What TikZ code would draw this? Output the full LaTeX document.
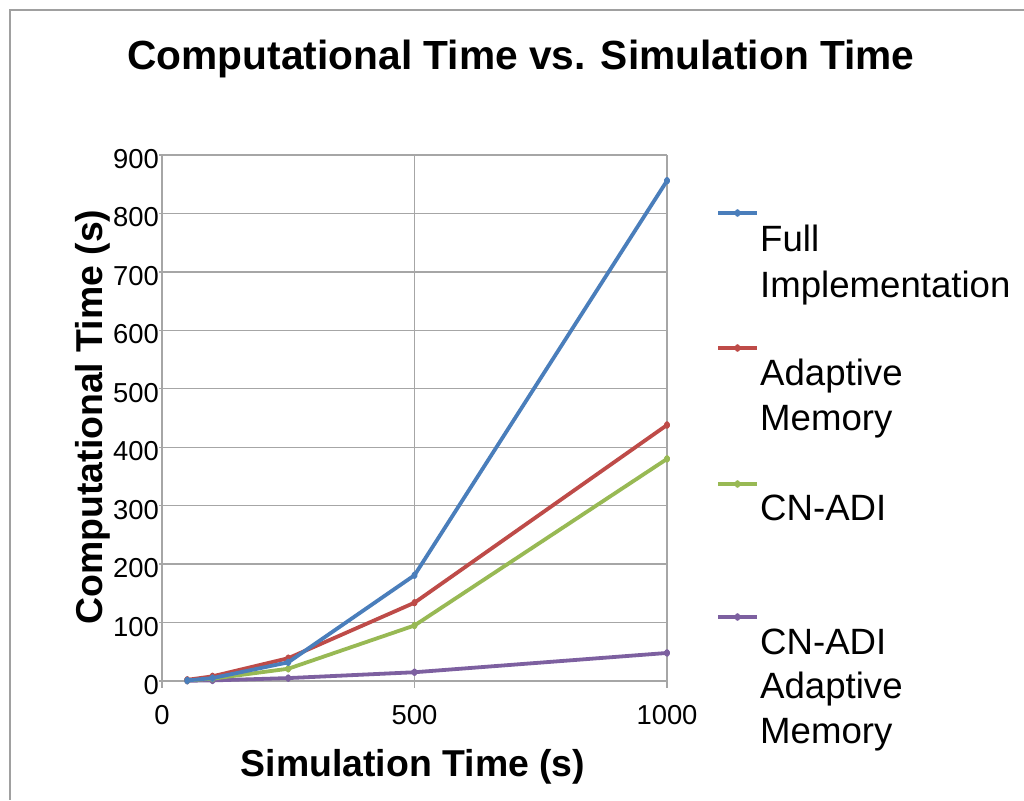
\documentclass[tikz,border=0pt]{standalone}
\usepackage{fontspec}
\setmainfont{Liberation Sans}
\usetikzlibrary{plotmarks}
\definecolor{gridgray}{HTML}{A6A6A6}
\definecolor{frame}{HTML}{A0A0A0}
\definecolor{serblue}{HTML}{4A7EBB}
\definecolor{serred}{HTML}{BE4B48}
\definecolor{sergreen}{HTML}{98B954}
\definecolor{serpurple}{HTML}{7D60A0}
\begin{document}
\begin{tikzpicture}[x=1pt,y=-1pt,
  gridline/.style={draw=gridgray,line width=1.4pt},
  series/.style={line width=3.8pt,line join=round,line cap=round},
  dmarks/.style={mark=diamond*,mark size=1.9pt,mark options={solid}},
  ticklbl/.style={inner sep=0pt,font=\fontsize{27.4}{30}\selectfont},
  axistitle/.style={inner sep=0pt,font=\bfseries\fontsize{37.4}{40}\selectfont},
  legtxt/.style={inner sep=0pt,anchor=base west,font=\fontsize{36.6}{40}\selectfont},
  titletxt/.style={inner sep=0pt,anchor=base,font=\bfseries\fontsize{40.7}{44}\selectfont}]
\useasboundingbox[fill=white] (0,0) rectangle (1024,800);

% outer frame (left and top edges)
\draw[frame,line width=1.5pt] (10,800) -- (10,10) -- (1024,10);

% title
\node[titletxt] (title) at (521,70) {Computational Time vs. Simulation Time};

% plot area: value -> pixel mapping
\begin{scope}[shift={(162,681)},x=0.505pt,y=0.58444pt]
  % horizontal grid lines with short ticks to the left
  \foreach \v in {0,100,...,900}{
    \draw[gridline] (-5,\v) -- (1000,\v);
    \node[ticklbl,anchor=base east] (ylab\v) at (-6,\v-23) {\v};
  }
  % vertical grid lines with ticks below
  \foreach \u in {0,500,1000}{
    \draw[gridline] (\u,900) -- (\u,-12);
    \node[ticklbl,anchor=base] (xlab\u) at (\u,-75) {\u};
  }

  % data points
  \coordinate (b1) at (50,1);   \coordinate (b2) at (100,5);
  \coordinate (b3) at (250,32); \coordinate (b4) at (500,181);
  \coordinate (b5) at (1000,856);
  \coordinate (r1) at (50,2);   \coordinate (r2) at (100,8);
  \coordinate (r3) at (250,39); \coordinate (r4) at (500,134);
  \coordinate (r5) at (1000,438);
  \coordinate (g1) at (50,1);   \coordinate (g2) at (100,4);
  \coordinate (g3) at (250,21); \coordinate (g4) at (500,95);
  \coordinate (g5) at (1000,380);
  \coordinate (p1) at (50,0.5); \coordinate (p2) at (100,1);
  \coordinate (p3) at (250,5);  \coordinate (p4) at (500,15);
  \coordinate (p5) at (1000,48);

  \draw[series,serpurple] plot[dmarks] coordinates {(p1) (p2) (p3) (p4) (p5)};
  \draw[series,sergreen] plot[dmarks] coordinates {(g1) (g2) (g3) (g4) (g5)};
  \draw[series,serred] plot[dmarks] coordinates {(r1) (r2) (r3) (r4) (r5)};
  \draw[series,serblue] plot[dmarks] coordinates {(b1) (b2) (b3) (b4) (b5)};
\end{scope}

% axis titles
\node[axistitle,anchor=base] (xtitle) at (413,776) {Simulation Time (s)};
\node[axistitle,anchor=base,rotate=90] (ytitle) at (102,417) {Computational Time (s)};

% legend keys
\foreach \c/\yy/\k in {serblue/213/kb,serred/348/kr,sergreen/484/kg,serpurple/617/kp}{
  \coordinate (\k a) at (718,\yy);
  \coordinate (\k m) at (737.5,\yy);
  \coordinate (\k b) at (757,\yy);
  \draw[series,line cap=butt,\c] plot[dmarks,mark indices={2}] coordinates {(\k a) (\k m) (\k b)};
}

% legend labels
\node[legtxt] (lfull1) at (760,251) {Full};
\node[legtxt] (lfull2) at (760,297) {Implementation};
\node[legtxt] (ladap1) at (760,385) {Adaptive};
\node[legtxt] (ladap2) at (760,430) {Memory};
\node[legtxt] (lcn1) at (760,520) {CN-ADI};
\node[legtxt] (lcna1) at (760,654) {CN-ADI};
\node[legtxt] (lcna2) at (760,698) {Adaptive};
\node[legtxt] (lcna3) at (760,743) {Memory};
\end{tikzpicture}
\end{document}
